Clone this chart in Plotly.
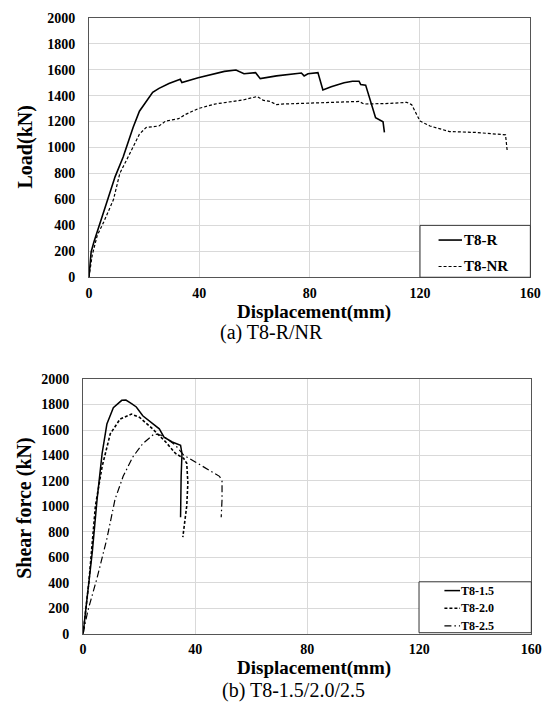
import plotly.graph_objects as go

# ---------------- data: (a) T8-R / T8-NR ----------------
r_x = [0, 0.8, 1.8, 4.1, 6.5, 9.5, 12.4, 16, 18.3, 20.7, 23.1, 25.4, 29, 33.1, 33.7, 39.6, 45.6,
       49.1, 53.3, 56.2, 60.4, 62.1, 68, 77, 78, 79.4, 83, 84.8, 87.8, 92.5, 95.5, 97.9, 98.5,
       100.3, 103.9, 105.4, 106.6, 107.1]
r_y = [0, 196, 272, 423, 574, 776, 927, 1154, 1280, 1355, 1426, 1456, 1494, 1526, 1501, 1537, 1569,
       1587, 1597, 1569, 1577, 1531, 1552, 1574, 1552, 1569, 1577, 1443, 1469, 1499, 1511, 1511, 1486,
       1481, 1229, 1209, 1199, 1116]
nr_x = [0, 1.2, 3, 5.3, 8.9, 11.2, 13.6, 16, 18.3, 20.7, 25.4, 27.8, 32.5, 34.9, 39.6, 45.6, 51.5,
        56.2, 60.9, 63.3, 65.7, 68, 69.9, 87.8, 97.9, 99.7, 102.1, 109.3, 115.2, 117, 120, 123.6,
        130.7, 140.3, 151, 151.6]
nr_y = [0, 171, 322, 423, 599, 801, 902, 1003, 1103, 1154, 1166, 1204, 1222, 1254, 1300, 1335, 1355,
        1368, 1393, 1363, 1355, 1330, 1335, 1348, 1355, 1335, 1335, 1340, 1348, 1330, 1204, 1166,
        1123, 1116, 1098, 977]

# ---------------- data: (b) T8-1.5 / 2.0 / 2.5 ----------------
s15_x = [0, 1.5, 3.3, 5, 6.8, 8.5, 10.8, 13.8, 15.3, 17.3, 19, 21.3, 24.3, 27.2, 28.9, 31.8, 34.8,
         35.3, 35, 34.8]
s15_y = [0, 283, 644, 1055, 1416, 1647, 1776, 1833, 1835, 1807, 1781, 1712, 1660, 1609, 1544, 1506,
         1480, 1416, 1235, 914]
s20_x = [0, 2.1, 4.4, 6.8, 9.7, 13.2, 17.3, 20.2, 24.8, 29.5, 33, 35.9, 37, 37.4, 37, 35.6]
s20_y = [0, 412, 1004, 1313, 1570, 1686, 1725, 1699, 1609, 1506, 1416, 1377, 1338, 1184, 1004, 759]
s25_x = [0, 1.7, 5, 8.5, 11.4, 14.3, 17.8, 21.3, 25.4, 28.3, 33, 35.9, 39.9, 44.7, 48.7, 49.6, 49.6,
         49.3]
s25_y = [0, 180, 438, 746, 1055, 1236, 1390, 1493, 1570, 1557, 1480, 1403, 1351, 1287, 1236, 1197,
         1055, 914]

names_a = ["T8-R", "T8-NR"]
names_b = ["T8-1.5", "T8-2.0", "T8-2.5"]
x_ticks = [0, 40, 80, 120, 160]
y_ticks = [0, 200, 400, 600, 800, 1000, 1200, 1400, 1600, 1800, 2000]

W, H = 555, 721
SERIF = "Liberation Serif"

style_a = [dict(color="black", width=1.6), dict(color="black", width=1.2, dash="3px,2px")]
style_b = [dict(color="black", width=1.5), dict(color="black", width=1.6, dash="3px,2px"),
           dict(color="black", width=1.2, dash="7px,3px,1.5px,3px")]


def px_x(p):
    return p / W


def px_y(p):
    return 1 - p / H


fig = go.Figure()

for xs, ys, nm, st in zip([r_x, nr_x], [r_y, nr_y], names_a, style_a):
    fig.add_trace(go.Scatter(x=xs, y=ys, mode="lines", name=nm, xaxis="x", yaxis="y",
                             line=st, showlegend=False))
for xs, ys, nm, st in zip([s15_x, s20_x, s25_x], [s15_y, s20_y, s25_y], names_b, style_b):
    fig.add_trace(go.Scatter(x=xs, y=ys, mode="lines", name=nm, xaxis="x2", yaxis="y2",
                             line=st, showlegend=False))

tickfont = dict(family=SERIF, size=14, color="black", weight="bold")
axis_common = dict(showgrid=True, gridcolor="#d9d9d9", gridwidth=1, zeroline=False,
                   showline=True, linecolor="#555555", linewidth=1, mirror=True, ticks="",
                   tickfont=tickfont)


def note(text, x, y, size, angle=0, xanchor="center"):
    return dict(text=text, x=px_x(x), y=px_y(y), xref="paper", yref="paper",
                xanchor=xanchor, yanchor="middle", textangle=angle, showarrow=False,
                font=dict(family=SERIF, size=size, color="black"))


annotations = [
    note("<b>Load(kN)</b>", 23, 143, 20, -90),
    note("<b>Displacement(mm)</b>", 318, 311, 19),
    note("(a) T8-R/NR", 275, 332, 20),
    note("<b>Shear force (kN)</b>", 22, 512, 20, -90),
    note("<b>Displacement(mm)</b>", 318, 675, 19),
    note("(b) T8-1.5/2.0/2.5", 297, 698, 20),
]

shapes = []
# legend (a): box and entries
shapes.append(dict(type="rect", xref="paper", yref="paper", x0=px_x(427), x1=px_x(540),
                   y0=px_y(276), y1=px_y(223), line=dict(color="#333333", width=1),
                   fillcolor="white", layer="above"))
for i, (nm, st) in enumerate(zip(names_a, style_a)):
    yy = 238 + 27 * i
    shapes.append(dict(type="line", xref="paper", yref="paper", x0=px_x(446), x1=px_x(470),
                       y0=px_y(yy), y1=px_y(yy), line=st, layer="above"))
    annotations.append(note("<b>" + nm + "</b>", 470, yy, 15, xanchor="left"))

# legend (b): box and entries
shapes.append(dict(type="rect", xref="paper", yref="paper", x0=px_x(426), x1=px_x(541),
                   y0=px_y(639), y1=px_y(587), line=dict(color="#333333", width=1),
                   fillcolor="white", layer="above"))
for i, (nm, st) in enumerate(zip(names_b, style_b)):
    yy = 596 + 18 * i
    shapes.append(dict(type="line", xref="paper", yref="paper", x0=px_x(452), x1=px_x(468),
                       y0=px_y(yy), y1=px_y(yy), line=st, layer="above"))
    annotations.append(note("<b>" + nm + "</b>", 467, yy, 12, xanchor="left"))

fig.update_layout(
    width=W, height=H,
    margin=dict(l=0, r=0, t=0, b=0),
    paper_bgcolor="white", plot_bgcolor="white",
    showlegend=False,
    xaxis=dict(domain=[px_x(88), px_x(540)], range=[0, 160], tickvals=x_ticks, anchor="y",
               ticklabelstandoff=3, **axis_common),
    yaxis=dict(domain=[px_y(276), px_y(11)], range=[0, 2000], tickvals=y_ticks, anchor="x",
               ticklabelstandoff=10, **axis_common),
    xaxis2=dict(domain=[px_x(82), px_x(541)], range=[0, 160], tickvals=x_ticks, anchor="y2",
                ticklabelstandoff=3, **axis_common),
    yaxis2=dict(domain=[px_y(640), px_y(380)], range=[0, 2000], tickvals=y_ticks, anchor="x2",
                ticklabelstandoff=10, **axis_common),
    shapes=shapes,
    annotations=annotations,
)

fig.write_html("out.html", config={"displayModeBar": False},
               post_script="document.body.style.margin='0px';document.body.style.overflow='hidden';")
